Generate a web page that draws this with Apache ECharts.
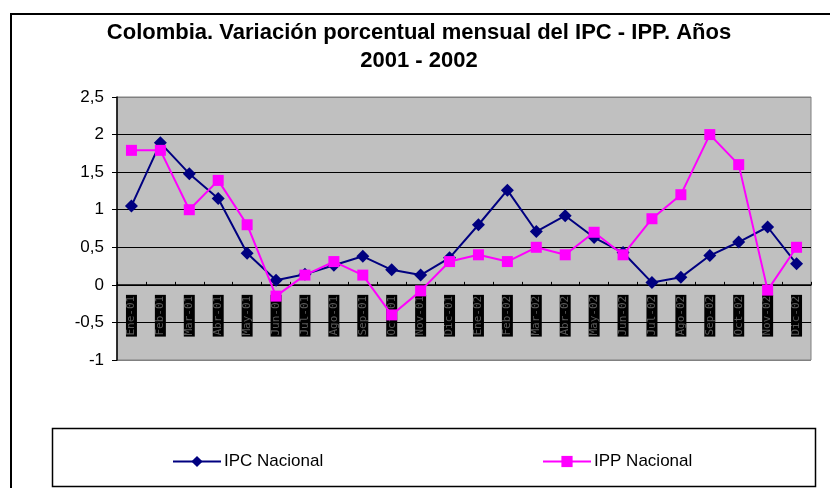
<!DOCTYPE html>
<html>
<head>
<meta charset="utf-8">
<script src="https://cdn.jsdelivr.net/npm/echarts@6/dist/echarts.min.js"></script>
<style>
html,body{margin:0;padding:0;background:#fff;}
#chart{width:830px;height:488px;}
</style>
</head>
<body>
<div id="chart"></div>
<script>
var categories = ['Ene-01','Feb-01','Mar-01','Abr-01','May-01','Jun-01','Jul-01','Ago-01','Sep-01','Oct-01','Nov-01','Dic-01',
                  'Ene-02','Feb-02','Mar-02','Abr-02','May-02','Jun-02','Jul-02','Ago-02','Sep-02','Oct-02','Nov-02','Dic-02'];
var ipcNacional = [1.05,1.89,1.48,1.15,0.42,0.06,0.14,0.26,0.38,0.20,0.13,0.36,
                   0.80,1.26,0.71,0.92,0.63,0.43,0.03,0.10,0.39,0.57,0.77,0.28];
var ippNacional = [1.79,1.79,1.00,1.39,0.80,-0.15,0.13,0.31,0.13,-0.40,-0.08,0.31,
                   0.40,0.31,0.50,0.40,0.70,0.40,0.88,1.20,2.00,1.60,-0.07,0.50];
var yTicks = [-1,-0.5,0,0.5,1,1.5,2,2.5];

var gridTop = 97, gridBottom = 128, chartH = 488;
var yMin = -1, yMax = 2.5;
var plotH = chartH - gridTop - gridBottom;
var zeroOffset = -plotH * (0 - yMin) / (yMax - yMin);

var chart = echarts.init(document.getElementById('chart'), null, {renderer:'canvas'});
var font = 'Liberation Sans, Arial, sans-serif';
chart.setOption({
  animation:false,
  backgroundColor:'#fff',
  graphic:[
    {type:'rect', z:-10, shape:{x:11, y:14, width:840, height:500}, style:{fill:'#fff', stroke:'#000', lineWidth:2}},
    {type:'rect', z:-5, shape:{x:52.5, y:428.5, width:763, height:58}, style:{fill:'#fff', stroke:'#000', lineWidth:1.5}}
  ],
  title:{
    text:'Colombia. Variación porcentual mensual del IPC - IPP. Años\n2001 - 2002',
    left:414, top:14, textAlign:'center',
    textStyle:{fontFamily:font, fontWeight:'bold', fontSize:22, lineHeight:28, color:'#000'}
  },
  legend:[
    {data:['IPC Nacional'], left:167, top:448, itemWidth:48, itemHeight:14, itemGap:4,
     textStyle:{fontFamily:font, fontSize:17, color:'#000', padding:[0,0,0,-2]}},
    {data:['IPP Nacional'], left:537, top:448, itemWidth:48, itemHeight:14, itemGap:4,
     textStyle:{fontFamily:font, fontSize:17, color:'#000', padding:[0,0,0,-2]}}
  ],
  grid:{left:117, right:19, top:gridTop, bottom:gridBottom, show:true, backgroundColor:'#c0c0c0', borderColor:'#808080', borderWidth:1},
  xAxis:{
    type:'category', data:categories, boundaryGap:true, offset:zeroOffset,
    axisLine:{onZero:false, lineStyle:{color:'#000', width:1.5}},
    axisTick:{show:true, inside:true, length:3, alignWithLabel:false, lineStyle:{color:'#000'}},
    axisLabel:{rotate:90, margin:10, interval:0, fontFamily:'DejaVu Sans Mono, monospace', fontSize:11, lineHeight:11,
      color:'#5a5a5a', backgroundColor:'#000', padding:[0,1]},
    splitLine:{show:false}
  },
  yAxis:{
    type:'value', min:yMin, max:yMax, interval:0.5,
    axisLine:{show:true, lineStyle:{color:'#000', width:1.5}},
    axisTick:{show:true, inside:false, length:5, lineStyle:{color:'#000'}},
    axisLabel:{margin:13, fontFamily:font, fontSize:17, color:'#000',
      formatter:function(v){return String(v).replace('.', ',');}},
    splitLine:{show:true, lineStyle:{color:['#808080','#000','#000','#000','#000','#000','#000','#808080'], width:1}}
  },
  series:[
    {name:'IPC Nacional', type:'line', data:ipcNacional, symbol:'diamond', symbolSize:[13,13],
     lineStyle:{color:'#000080', width:2}, itemStyle:{color:'#000080'}, z:3},
    {name:'IPP Nacional', type:'line', data:ippNacional, symbol:'rect', symbolSize:11,
     lineStyle:{color:'#ff00ff', width:2}, itemStyle:{color:'#ff00ff'}, z:4}
  ]
});
</script>
</body>
</html>
